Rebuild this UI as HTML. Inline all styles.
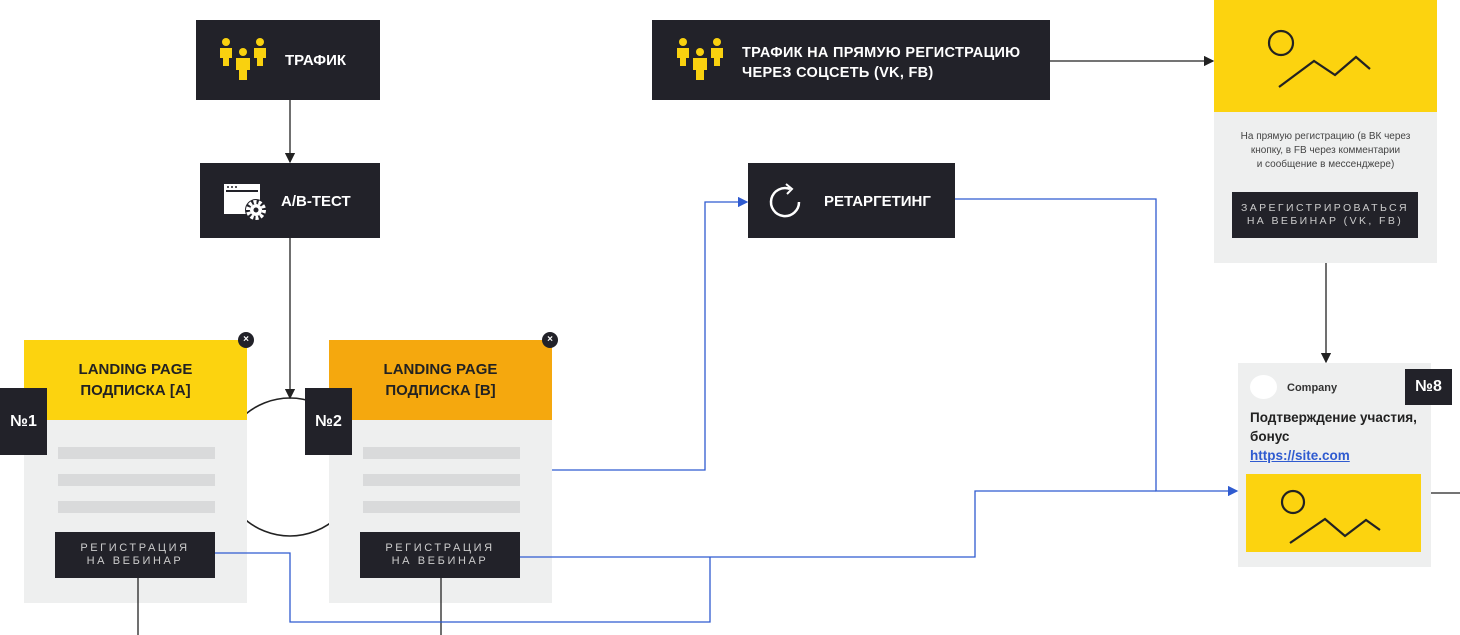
<!DOCTYPE html>
<html><head><meta charset="utf-8"><style>
body{margin:0;width:1460px;height:635px;background:#fff;overflow:hidden;position:relative;font-family:"Liberation Sans","DejaVu Sans",sans-serif}
.a{position:absolute}
.dk{background:#222229;color:#fff;font-weight:bold}
.btn{background:#222229;color:#ccc;font-size:11px;letter-spacing:2.6px;text-align:center;line-height:13px;display:flex;align-items:center;justify-content:center}
.bar{position:absolute;background:#d9dadb;height:12px}
.badge{background:#222229;color:#fff;font-weight:bold;font-size:16px;display:flex;align-items:center;justify-content:center}
.hd{font-weight:bold;font-size:15px;color:#222;text-align:center;line-height:21px;display:flex;align-items:center;justify-content:center}
</style></head><body>
<svg class="a" style="left:0;top:0" width="1460" height="635">
<defs><marker id="k" markerWidth="8" markerHeight="8" refX="7" refY="4" orient="auto"><path d="M0,0L8,4L0,8z" fill="#222"/></marker></defs>
<g stroke="#222" stroke-width="1.3" fill="none">
<line x1="290" y1="100" x2="290" y2="162" marker-end="url(#k)"/>
<line x1="290" y1="238" x2="290" y2="398" marker-end="url(#k)"/>
<circle cx="290" cy="467" r="69" stroke-width="1.6"/>
<line x1="1050" y1="61" x2="1213" y2="61" marker-end="url(#k)"/>
<line x1="1326" y1="238" x2="1326" y2="362" marker-end="url(#k)"/>
<line x1="1431" y1="493" x2="1460" y2="493"/>
</g>
</svg>

<div class="a dk" style="left:196px;top:20px;width:184px;height:80px"></div>
<svg class="a" style="left:218px;top:38px" width="50" height="46" fill="#f9d10f"><circle cx="8" cy="4" r="4"/><rect x="2" y="10" width="12" height="10"/><rect x="5" y="20" width="6" height="8"/><circle cx="42" cy="4" r="4"/><rect x="36" y="10" width="12" height="10"/><rect x="39" y="20" width="6" height="8"/><circle cx="25" cy="14" r="4"/><rect x="18" y="20" width="14" height="12"/><rect x="21" y="32" width="8" height="10"/></svg>
<div class="a" style="left:285px;top:52px;color:#fff;font-weight:bold;font-size:15px">ТРАФИК</div>

<div class="a dk" style="left:200px;top:163px;width:180px;height:75px"></div>
<svg class="a" style="left:222px;top:182px" width="46" height="40"><rect x="2" y="2" width="36" height="30" fill="#fff"/><rect x="4" y="8" width="32" height="2" fill="#222229"/><circle cx="6" cy="5" r="1" fill="#222229"/><circle cx="10" cy="5" r="1" fill="#222229"/><circle cx="14" cy="5" r="1" fill="#222229"/><circle cx="34" cy="28" r="11" fill="#222229"/><circle cx="34" cy="28" r="8" fill="none" stroke="#fff" stroke-width="4" stroke-dasharray="3 2"/><circle cx="34" cy="28" r="6" fill="#fff"/><circle cx="34" cy="28" r="2.5" fill="#222229"/></svg>
<div class="a" style="left:281px;top:193px;color:#fff;font-weight:bold;font-size:15px">А/В-ТЕСТ</div>

<div class="a dk" style="left:652px;top:20px;width:398px;height:80px"></div>
<svg class="a" style="left:675px;top:38px" width="50" height="46" fill="#f9d10f"><circle cx="8" cy="4" r="4"/><rect x="2" y="10" width="12" height="10"/><rect x="5" y="20" width="6" height="8"/><circle cx="42" cy="4" r="4"/><rect x="36" y="10" width="12" height="10"/><rect x="39" y="20" width="6" height="8"/><circle cx="25" cy="14" r="4"/><rect x="18" y="20" width="14" height="12"/><rect x="21" y="32" width="8" height="10"/></svg>
<div class="a" style="left:742px;top:43px;color:#fff;font-weight:bold;font-size:14.5px;line-height:20px;letter-spacing:0.3px">ТРАФИК НА ПРЯМУЮ РЕГИСТРАЦИЮ<br>ЧЕРЕЗ СОЦСЕТЬ (VK, FB)</div>

<div class="a dk" style="left:748px;top:163px;width:207px;height:75px"></div>
<svg class="a" style="left:766px;top:182px" width="40" height="40" fill="none" stroke="#fff" stroke-width="2.5"><path d="M33,20A14,14 0 1 1 24,7"/><path d="M20,2L26,7L21,12" stroke-width="2"/></svg>
<div class="a" style="left:824px;top:193px;color:#fff;font-weight:bold;font-size:15px">РЕТАРГЕТИНГ</div>

<!-- Card A -->
<div class="a" style="left:24px;top:340px;width:223px;height:263px;background:#eeefef"></div>
<div class="a hd" style="left:24px;top:340px;width:223px;height:80px;background:#fcd30f">LANDING PAGE<br>ПОДПИСКА [А]</div>
<div class="bar" style="left:58px;top:447px;width:157px"></div><div class="bar" style="left:58px;top:474px;width:157px"></div><div class="bar" style="left:58px;top:501px;width:157px"></div>
<div class="a btn" style="left:55px;top:532px;width:160px;height:46px">РЕГИСТРАЦИЯ<br>НА ВЕБИНАР</div>
<div class="a badge" style="left:0;top:388px;width:47px;height:67px">№1</div>
<div class="a" style="left:238px;top:332px;width:16px;height:16px;border-radius:50%;background:#222229;color:#fff;font-size:10px;text-align:center;line-height:16px;font-weight:bold">×</div>

<!-- Card B -->
<div class="a" style="left:329px;top:340px;width:223px;height:263px;background:#eeefef"></div>
<div class="a hd" style="left:329px;top:340px;width:223px;height:80px;background:#f5a80e">LANDING PAGE<br>ПОДПИСКА [В]</div>
<div class="bar" style="left:363px;top:447px;width:157px"></div><div class="bar" style="left:363px;top:474px;width:157px"></div><div class="bar" style="left:363px;top:501px;width:157px"></div>
<div class="a btn" style="left:360px;top:532px;width:160px;height:46px">РЕГИСТРАЦИЯ<br>НА ВЕБИНАР</div>
<div class="a badge" style="left:305px;top:388px;width:47px;height:67px">№2</div>
<div class="a" style="left:542px;top:332px;width:16px;height:16px;border-radius:50%;background:#222229;color:#fff;font-size:10px;text-align:center;line-height:16px;font-weight:bold">×</div>

<!-- Right card -->
<div class="a" style="left:1214px;top:0;width:223px;height:263px;background:#eeefef"></div>
<div class="a" style="left:1214px;top:0;width:223px;height:112px;background:#fcd30f"></div>
<svg class="a" style="left:1214px;top:0" width="223" height="112" fill="none" stroke="#222" stroke-width="2.2"><circle cx="67" cy="43" r="12"/><polyline points="65,87 100,61 121,75 142,57 156,69"/></svg>
<div class="a" style="left:1214px;top:130px;width:223px;text-align:center;font-size:10px;line-height:14px;color:#444">На прямую регистрацию (в ВК через<br>кнопку, в FB через комментарии<br>и сообщение в мессенджере)</div>
<div class="a btn" style="left:1232px;top:192px;width:186px;height:46px;letter-spacing:2.4px;font-size:10.5px">ЗАРЕГИСТРИРОВАТЬСЯ<br>НА ВЕБИНАР (VK, FB)</div>

<div class="a" style="left:1238px;top:363px;width:193px;height:204px;background:#eeefef"></div>
<div class="a" style="left:1250px;top:375px;width:27px;height:24px;border-radius:50%;background:#fff"></div>
<div class="a" style="left:1287px;top:382px;font-size:11px;font-weight:bold;color:#333">Company</div>
<div class="a" style="left:1250px;top:408px;font-size:13.5px;font-weight:bold;color:#222;line-height:19px">Подтверждение участия,<br>бонус<br><span style="color:#2f5bd0;text-decoration:underline">https://site.com</span></div>
<div class="a badge" style="left:1405px;top:369px;width:47px;height:36px">№8</div>
<div class="a" style="left:1246px;top:474px;width:175px;height:78px;background:#fcd30f"></div>
<svg class="a" style="left:1246px;top:474px" width="175" height="78" fill="none" stroke="#222" stroke-width="2.2"><circle cx="47" cy="28" r="11"/><polyline points="44,69 79,45 99,62 120,46 134,56"/></svg>

<svg class="a" style="left:0;top:0" width="1460" height="635">
<defs><marker id="b" markerWidth="8" markerHeight="8" refX="7" refY="4" orient="auto"><path d="M0,0L8,4L0,8z" fill="#2f5bd0"/></marker></defs>
<g stroke="#222" stroke-width="1.3"><line x1="138" y1="578" x2="138" y2="635"/><line x1="441" y1="578" x2="441" y2="635"/></g>
<g stroke="#2f5bd0" stroke-width="1.3" fill="none">
<polyline points="552,470 705,470 705,202 747,202" marker-end="url(#b)"/>
<polyline points="955,199 1156,199 1156,491 1237,491" marker-end="url(#b)"/>
<polyline points="520,557 975,557 975,491 1156,491"/>
<polyline points="215,553 290,553 290,622 710,622 710,557"/>
</g>
</svg>
</body></html>
